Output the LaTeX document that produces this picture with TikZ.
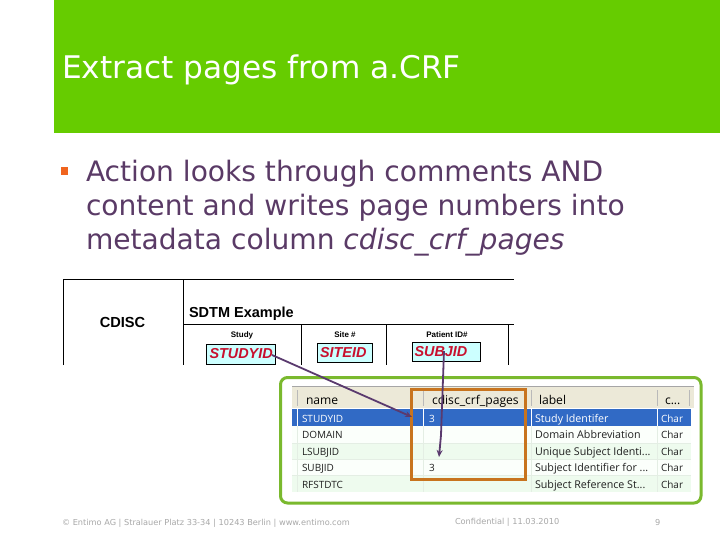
\documentclass[tikz,border=0pt]{standalone}
\usepackage{fontspec}
\setmainfont{DejaVu Sans}
\newfontfamily\armfont{Liberation Sans}
\newfontfamily\tabfont{Open Sans}
\definecolor{hdrgreen}{HTML}{66CC00}
\definecolor{bodytxt}{HTML}{5A3A66}
\definecolor{bulletor}{HTML}{F0641E}
\definecolor{framegreen}{HTML}{7AB92E}
\definecolor{frameor}{HTML}{C8741E}
\definecolor{arrowpur}{HTML}{5A3A6E}
\definecolor{idcyan}{HTML}{CCFFFF}
\definecolor{idred}{HTML}{C8102E}
\definecolor{selblue}{HTML}{316AC5}
\definecolor{hdrgrey}{HTML}{ECE9D8}
\definecolor{rowgreen}{HTML}{EEFBEE}
\definecolor{rowwhite}{HTML}{FBFFFB}
\definecolor{gridgrey}{HTML}{E4EEE4}
\definecolor{foot}{HTML}{A8A8A8}
\definecolor{tabtxt}{HTML}{202020}
\tikzset{
  px/.style={inner sep=0pt,outer sep=0pt},
  title/.style={px,anchor=base west,text=white,font=\fontsize{31.2}{36}\selectfont},
  bodytext/.style={px,anchor=north west,align=left,text=bodytxt,font=\fontsize{28.1}{34}\selectfont},
  rule/.style={black,line width=0.9pt},
  idbox/.style={draw=black,line width=0.9pt,fill=idcyan,px},
  idtext/.style={px,anchor=base west,text=idred,font=\armfont\bfseries\itshape\fontsize{14.4}{16}\selectfont},
  hd/.style={px,anchor=base,font=\armfont\bfseries\fontsize{8}{10}\selectfont},
  cell/.style={px,anchor=base west,text=tabtxt,font=\tabfont\fontsize{10}{12}\selectfont},
  lcell/.style={cell,font=\tabfont\fontsize{10.7}{12}\selectfont},
  selcell/.style={cell,text=white},
  sellcell/.style={lcell,text=white},
  headcell/.style={cell,text=black,font=\tabfont\fontsize{12.1}{12}\selectfont},
  footer/.style={px,anchor=base west,text=foot,font=\fontsize{8.2}{10}\selectfont},
  conn/.style={draw=arrowpur,line width=1.8pt,-{Stealth[length=7pt,width=6pt]}},
}
\usetikzlibrary{arrows.meta}
\begin{document}
\begin{tikzpicture}[x=1pt,y=-1pt]
\useasboundingbox (0,0) rectangle (720,540);
\fill[white] (0,0) rectangle (720,540);
% header
\fill[hdrgreen] (54,0) rectangle (720,133);
\node[title] (ttl) at (62,79) {Extract pages from a.CRF};
% bullet
\fill[bulletor] (61,167) rectangle (68,175);
\node[bodytext] (body) at (86,160.5) {Action looks through comments AND\\content and writes page numbers into\\metadata column \textit{cdisc\_crf\_pages}};
% upper table
\draw[rule] (63,365) -- (63,279) -- (514,279);
\draw[rule] (183,279) -- (183,365);
\draw[rule] (183,324) -- (514,324);
\foreach \x in {301,386,508} \draw[rule] (\x,324) -- (\x,365);
\node[px,anchor=base,font=\armfont\bfseries\fontsize{14.6}{16}\selectfont] (cdisc) at (122.5,327.5) {CDISC};
\node[px,anchor=base west,font=\armfont\bfseries\fontsize{14.5}{16}\selectfont] (sdtm) at (189,317) {SDTM Example};
\node[hd] (hstudy) at (242,337) {Study};
\node[hd] (hsite) at (345,337) {Site \#};
\node[hd] (hpat) at (447,337) {Patient ID\#};
\draw[idbox] (206,344) rectangle (275,364);
\draw[idbox] (317,343) rectangle (372,362);
\draw[idbox] (412,342) rectangle (480,361);
\node[idtext] (studyid) at (209.5,358) {STUDYID};
\node[idtext] (siteid) at (320,357) {SITEID};
\node[idtext] (subjid) at (414.5,356) {SUBJID};
% screenshot table
\fill[hdrgrey] (292,386) rectangle (694,408);
\fill[rowwhite] (292,426) rectangle (691,443);
\fill[rowgreen] (292,443) rectangle (691,459);
\fill[rowwhite] (292,459) rectangle (691,475);
\fill[rowgreen] (292,475) rectangle (691,492);
\fill[selblue] (292,409) rectangle (691,426);
\draw[gridgrey,line width=0.6pt] (292,443) -- (691,443) (292,459) -- (691,459) (292,475) -- (691,475);
\foreach \x in {297,423,531,657} \draw[gridgrey,line width=0.6pt] (\x,426) -- (\x,492);
\foreach \x in {297,423,531,657} \draw[white,line width=0.7pt] (\x,409) -- (\x,426);
\foreach \x in {297,423,531,657,689} \draw[gray!55,line width=0.7pt] (\x,390) -- (\x,406);
\draw[gray!70,line width=0.8pt] (292,386) -- (694,386);
\node[headcell] (cname) at (306,404) {name};
\node[headcell] (ccrf) at (432,404) {cdisc\_crf\_pages};
\node[headcell] (clabel) at (539,404) {label};
\node[headcell] (ctype) at (665,404) {c...};
\node[selcell] (r1a) at (302,422) {STUDYID};
\node[selcell] (r1b) at (429,422) {3};
\node[sellcell] (r1c) at (535,422) {Study Identifer};
\node[selcell] (r1d) at (661,422) {Char};
\node[cell] (r2a) at (302,438) {DOMAIN};
\node[lcell] (r2c) at (535,438) {Domain Abbreviation};
\node[cell] (r2d) at (661,438) {Char};
\node[cell] (r3a) at (302,455) {LSUBJID};
\node[lcell] (r3c) at (535,455) {Unique Subject Identi...};
\node[cell] (r3d) at (661,455) {Char};
\node[cell] (r4a) at (302,471) {SUBJID};
\node[cell] (r4b) at (429,471) {3};
\node[lcell] (r4c) at (535,471) {Subject Identifier for ...};
\node[cell] (r4d) at (661,471) {Char};
\node[cell] (r5a) at (302,488) {RFSTDTC};
\node[lcell] (r5c) at (535,488) {Subject Reference St...};
\node[cell] (r5d) at (661,488) {Char};
% frames
\draw[framegreen,line width=3pt,rounded corners=7pt] (280.5,377.5) rectangle (701,503);
\draw[frameor,line width=3pt] (411.5,389.5) rectangle (525,479.5);
% connectors
\coordinate (s1) at (272,355);
\coordinate (t1) at (412,417);
\coordinate (s2) at (444,351);
\coordinate (m2) at (441,435);
\coordinate (t2) at (439,457);
\draw[conn] (s1) -- (t1);
\draw[conn] (s2) -- (m2) -- (t2);
% footer
\node[footer] (f1) at (62,525) {© Entimo AG | Stralauer Platz 33-34 | 10243 Berlin | www.entimo.com};
\node[footer] (f2) at (455,524) {Confidential | 11.03.2010};
\node[footer] (f3) at (655,525) {9};
\end{tikzpicture}
\end{document}
